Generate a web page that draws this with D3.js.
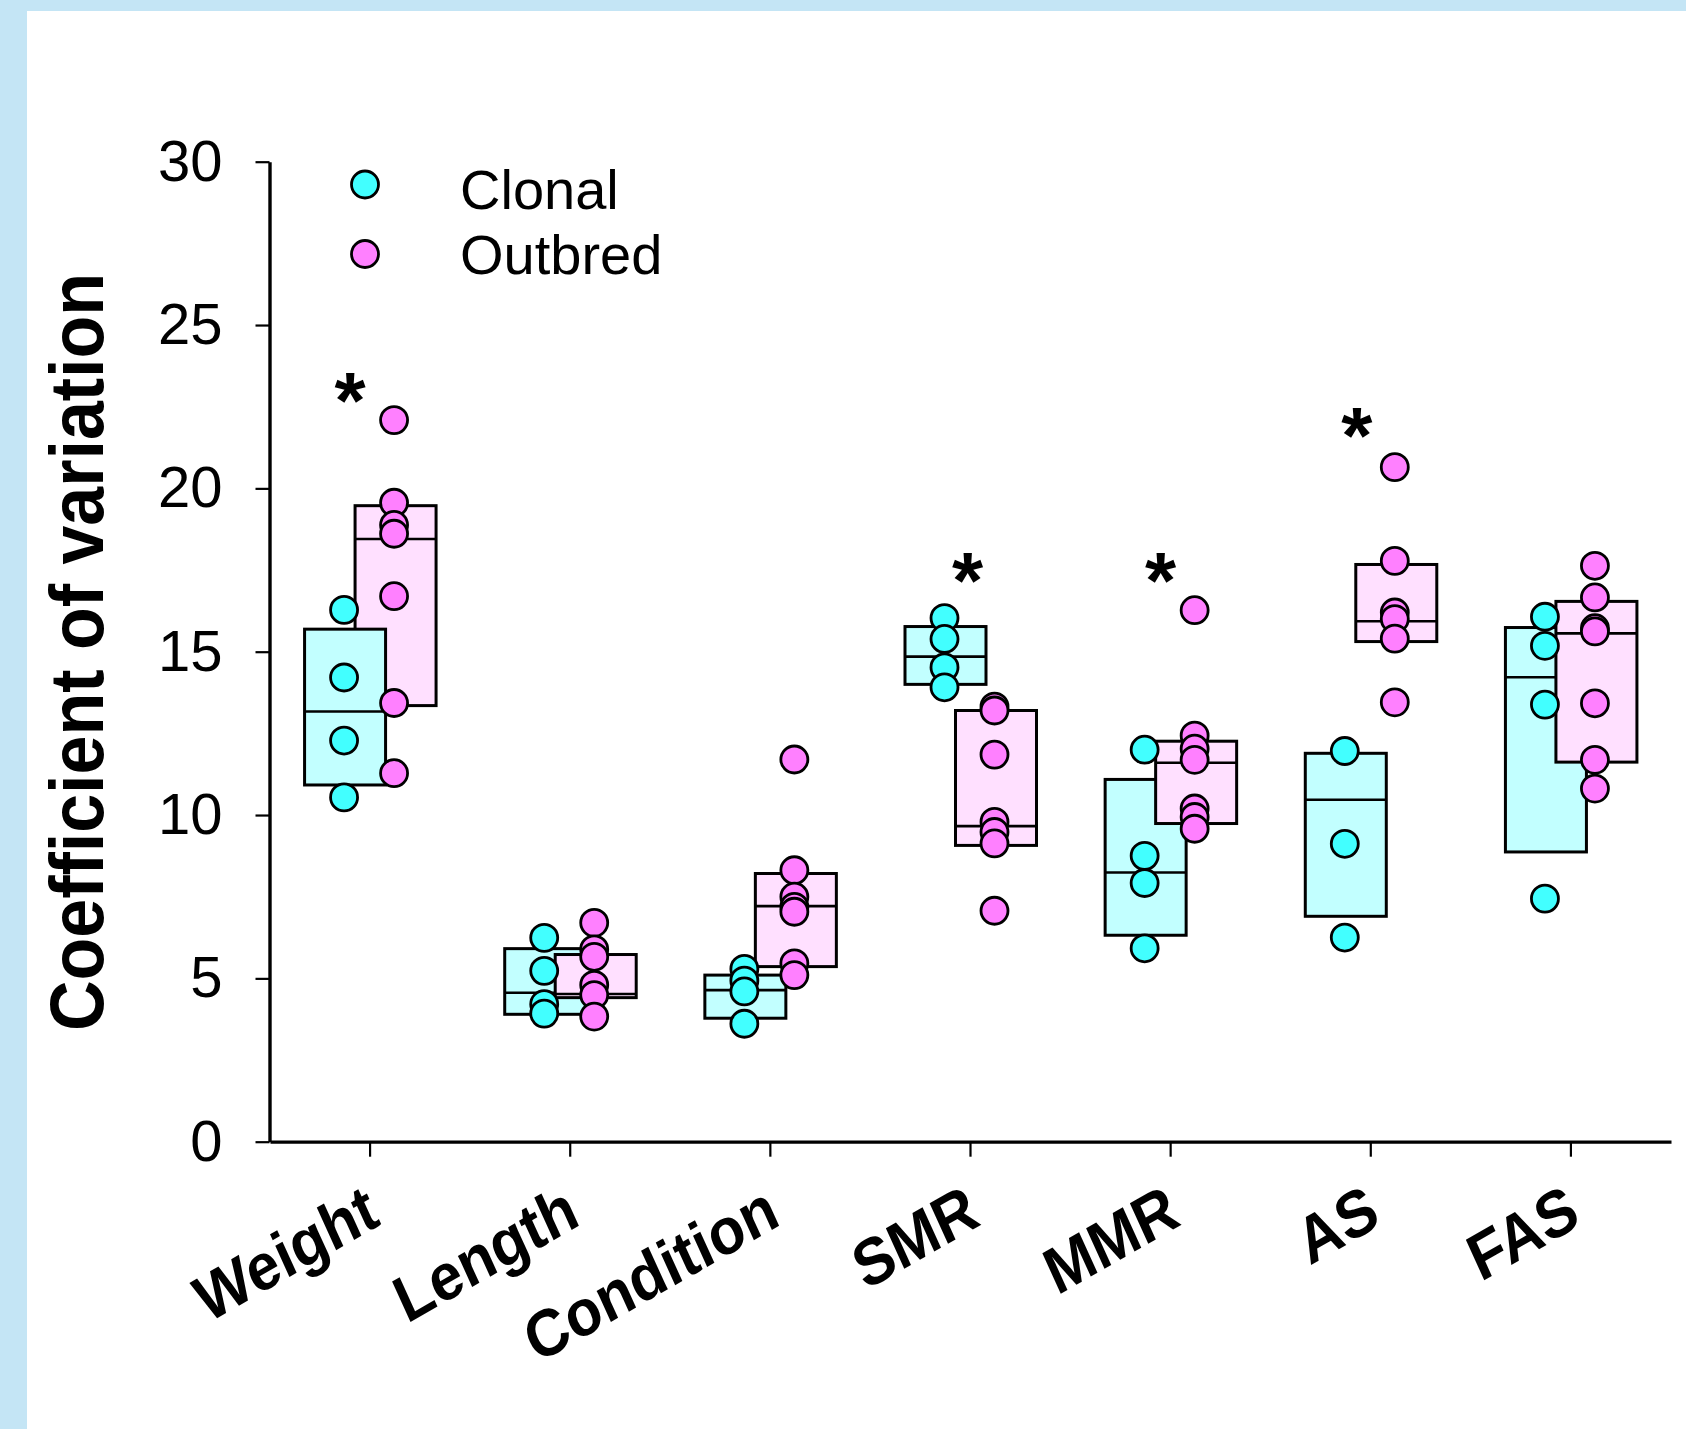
<!DOCTYPE html>
<html><head><meta charset="utf-8">
<script src="https://cdn.jsdelivr.net/npm/d3@7"></script>
<style>html,body{margin:0;padding:0;background:#c4e5f5;} svg{display:block;}</style>
</head><body>
<svg id="chart" width="1686" height="1429"></svg>
<script>
// ---------------- DATA ----------------
const categories = ["Weight", "Length", "Condition", "SMR", "MMR", "AS", "FAS"];
const seriesNames = ["Clonal", "Outbred"];

// individual points (coefficient of variation)
const clonalPoints = [
  [16.28, 14.21, 12.28, 10.54],
  [6.24, 5.23, 4.21, 3.92],
  [5.29, 4.93, 4.60, 3.61],
  [16.03, 15.39, 14.52, 13.91],
  [12.00, 8.75, 7.92, 5.92],
  [11.96, 9.12, 6.25],
  [16.07, 15.18, 13.38, 7.44]
];
const outbredPoints = [
  [22.09, 19.56, 18.88, 18.61, 16.70, 13.43, 11.28],
  [6.70, 5.89, 5.66, 4.80, 4.49, 3.83],
  [11.70, 8.31, 7.50, 7.19, 7.04, 5.46, 5.10],
  [13.32, 13.20, 11.85, 9.79, 9.48, 9.13, 7.07],
  [16.27, 12.43, 12.03, 11.69, 10.20, 9.94, 9.58],
  [20.65, 17.78, 16.20, 16.00, 15.40, 13.45],
  [17.63, 16.66, 15.72, 15.62, 13.42, 11.69, 10.81]
];
// boxes: [lower quartile, median, upper quartile]
const clonalBox = [
  [10.92, 13.17, 15.69],
  [3.90, 4.56, 5.91],
  [3.78, 4.64, 5.10],
  [14.00, 14.85, 15.77],
  [6.32, 8.24, 11.09],
  [6.90, 10.47, 11.89],
  [8.87, 14.22, 15.74]
];
const outbredBox = [
  [13.35, 18.45, 19.47],
  [4.41, 4.52, 5.73],
  [5.36, 7.21, 8.21],
  [9.07, 9.66, 13.20],
  [9.74, 11.60, 12.26],
  [15.31, 15.93, 17.67],
  [11.62, 15.56, 16.54]
];
// significance markers
const starCategories = ["Weight", "SMR", "MMR", "AS"];
const starValues = [23.27, 17.75, 17.75, 22.20];
const yTicks = [0, 5, 10, 15, 20, 25, 30];
const yTitle = "Coefficient of variation";

// ---------------- LAYOUT / STYLE ----------------
const W = 1686, H = 1429;
const FONT = "'Liberation Sans', Arial, Helvetica, sans-serif";
const colors = {
  Clonal: { point: "#42ffff", box: "#c2ffff" },
  Outbred: { point: "#ff80ff", box: "#ffe0ff" }
};
const boxOffset = { Clonal: -25, Outbred: 25.5 };
const pointOffset = { Clonal: -26, Outbred: 24 };
const boxWidth = 81;
const pointR = 13.5;
const starNudge = [-20, -3, -10, -14];
const clonalOnTopIn = ["Weight"];

const svg = d3.select("#chart");
svg.append("rect").attr("x", 0).attr("y", 0).attr("width", W).attr("height", H).attr("fill", "#c4e5f5");
svg.append("rect").attr("x", 27).attr("y", 11).attr("width", W - 27).attr("height", H - 11).attr("fill", "#ffffff");

const x = d3.scaleBand().domain(categories).range([270, 1671]).padding(0);
const y = d3.scaleLinear().domain([0, 30]).range([1141.7, 161.7]);
const cx = c => x(c) + x.bandwidth() / 2;

// Y axis
const yAxis = svg.append("g").attr("transform", "translate(269.5,0)")
  .call(d3.axisLeft(y).tickValues(yTicks).tickSize(14).tickSizeOuter(0).tickPadding(33));
yAxis.select(".domain").attr("stroke", "#000").attr("stroke-width", 3.4);
yAxis.selectAll(".tick line").attr("stroke", "#000").attr("stroke-width", 2.2);
yAxis.selectAll(".tick text").attr("font-family", FONT).attr("font-size", 58).attr("fill", "#000");

// X axis
const xAxis = svg.append("g").attr("transform", "translate(0,1141.7)")
  .call(d3.axisBottom(x).tickSize(15).tickSizeOuter(0).tickFormat(""));
xAxis.select(".domain").attr("stroke", "#000").attr("stroke-width", 3.2);
xAxis.selectAll(".tick line").attr("stroke", "#000").attr("stroke-width", 2.2);

// X labels (rotated, slightly stretched vertically like the source)
svg.append("g").selectAll("text").data(categories).join("text")
  .attr("transform", d => `translate(${cx(d) + 12},1224) scale(1,1.12) rotate(-27)`)
  .attr("text-anchor", "end")
  .attr("font-family", FONT).attr("font-weight", "bold").attr("font-size", 59)
  .text(d => d);

// Y title
svg.append("text")
  .attr("transform", "translate(103,652) rotate(-90)")
  .attr("text-anchor", "middle")
  .attr("font-family", FONT).attr("font-weight", "bold").attr("font-size", 76)
  .attr("textLength", 758).attr("lengthAdjust", "spacingAndGlyphs")
  .text(yTitle);

// Boxes
const boxData = { Clonal: clonalBox, Outbred: outbredBox };
const ptData = { Clonal: clonalPoints, Outbred: outbredPoints };
const boxG = svg.append("g");
categories.forEach((c, i) => {
  const order = clonalOnTopIn.includes(c) ? ["Outbred", "Clonal"] : ["Clonal", "Outbred"];
  order.forEach(s => {
    const [q1, med, q3] = boxData[s][i];
    const bx = cx(c) + boxOffset[s] - boxWidth / 2;
    boxG.append("rect")
      .attr("x", bx).attr("y", y(q3)).attr("width", boxWidth).attr("height", y(q1) - y(q3))
      .attr("fill", colors[s].box).attr("stroke", "#000").attr("stroke-width", 3);
    boxG.append("line")
      .attr("x1", bx).attr("x2", bx + boxWidth).attr("y1", y(med)).attr("y2", y(med))
      .attr("stroke", "#000").attr("stroke-width", 2.6);
  });
});

// Points
const ptG = svg.append("g");
categories.forEach((c, i) => {
  seriesNames.forEach(s => {
    ptG.selectAll(null).data(ptData[s][i]).join("circle")
      .attr("cx", cx(c) + pointOffset[s]).attr("cy", d => y(d)).attr("r", pointR)
      .attr("fill", colors[s].point).attr("stroke", "#000").attr("stroke-width", 2.8);
  });
});

// Stars
svg.append("g").selectAll("text").data(starCategories).join("text")
  .attr("x", (d, i) => cx(d) + starNudge[i])
  .attr("y", (d, i) => y(starValues[i]) + 46)
  .attr("text-anchor", "middle")
  .attr("font-family", FONT).attr("font-weight", "bold").attr("font-size", 80)
  .text("*");

// Legend
const leg = svg.append("g");
seriesNames.forEach((s, i) => {
  leg.append("circle").attr("cx", 365).attr("cy", 184.5 + i * 69.5).attr("r", pointR)
    .attr("fill", colors[s].point).attr("stroke", "#000").attr("stroke-width", 2.8);
  leg.append("text").attr("x", 460).attr("y", 209 + i * 65)
    .attr("font-family", FONT).attr("font-size", 56).text(s);
});
</script>
</body></html>
